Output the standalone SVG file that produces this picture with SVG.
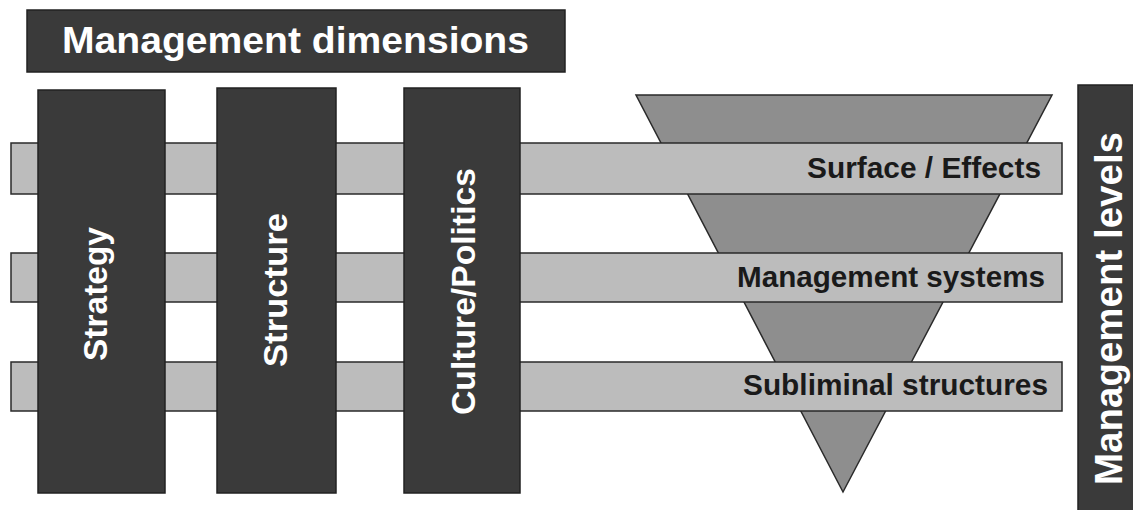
<svg xmlns="http://www.w3.org/2000/svg" width="1133" height="510" viewBox="0 0 1133 510">
<style>
.dark{fill:#3a3a3a;stroke:#222;stroke-width:1.5}
.band{fill:#bcbcbc;stroke:#2a2a2a;stroke-width:1.5}
.tri{fill:#8e8e8e;stroke:#2a2a2a;stroke-width:1.5}
.wt{fill:#fff;font-family:"Liberation Sans",Arial,sans-serif;font-weight:bold}
.bt{fill:#1a1a1a;font-family:"Liberation Sans",Arial,sans-serif;font-weight:bold;font-size:29px}
</style>
<rect width="1133" height="510" fill="#fff"/>
<g id="title">
<rect class="dark" x="27" y="10" width="538" height="62"/>
<text class="wt" x="62" y="53" font-size="36" textLength="467" lengthAdjust="spacingAndGlyphs">Management dimensions</text>
</g>
<g id="funnel">
<polygon class="tri" points="636,95 1052,95 843,492"/>
</g>
<g id="level-surface">
<rect class="band" x="11" y="143" width="1051" height="51"/>
<text class="bt" x="807" y="178" textLength="234" lengthAdjust="spacingAndGlyphs">Surface / Effects</text>
</g>
<g id="level-systems">
<rect class="band" x="11" y="253" width="1051" height="49"/>
<text class="bt" x="737" y="287" textLength="308" lengthAdjust="spacingAndGlyphs">Management systems</text>
</g>
<g id="level-subliminal">
<rect class="band" x="11" y="362" width="1051" height="49"/>
<text class="bt" x="743" y="395" textLength="305" lengthAdjust="spacingAndGlyphs">Subliminal structures</text>
</g>
<g id="dim-strategy">
<rect class="dark" x="38" y="90" width="127" height="403"/>
<text class="wt" font-size="33" transform="translate(107,361) rotate(-90)" textLength="134" lengthAdjust="spacingAndGlyphs">Strategy</text>
</g>
<g id="dim-structure">
<rect class="dark" x="217" y="88" width="119" height="405"/>
<text class="wt" font-size="33" transform="translate(287,367) rotate(-90)" textLength="154" lengthAdjust="spacingAndGlyphs">Structure</text>
</g>
<g id="dim-culture">
<rect class="dark" x="404" y="88" width="116" height="405"/>
<text class="wt" font-size="33" transform="translate(475,415) rotate(-90)" textLength="247" lengthAdjust="spacingAndGlyphs">Culture/Politics</text>
</g>
<g id="levels-label">
<rect class="dark" x="1078" y="85" width="62" height="430"/>
<text class="wt" font-size="38" transform="translate(1122,485) rotate(-90)" textLength="353" lengthAdjust="spacingAndGlyphs">Management levels</text>
</g>
<g id="connectors"/>
</svg>
